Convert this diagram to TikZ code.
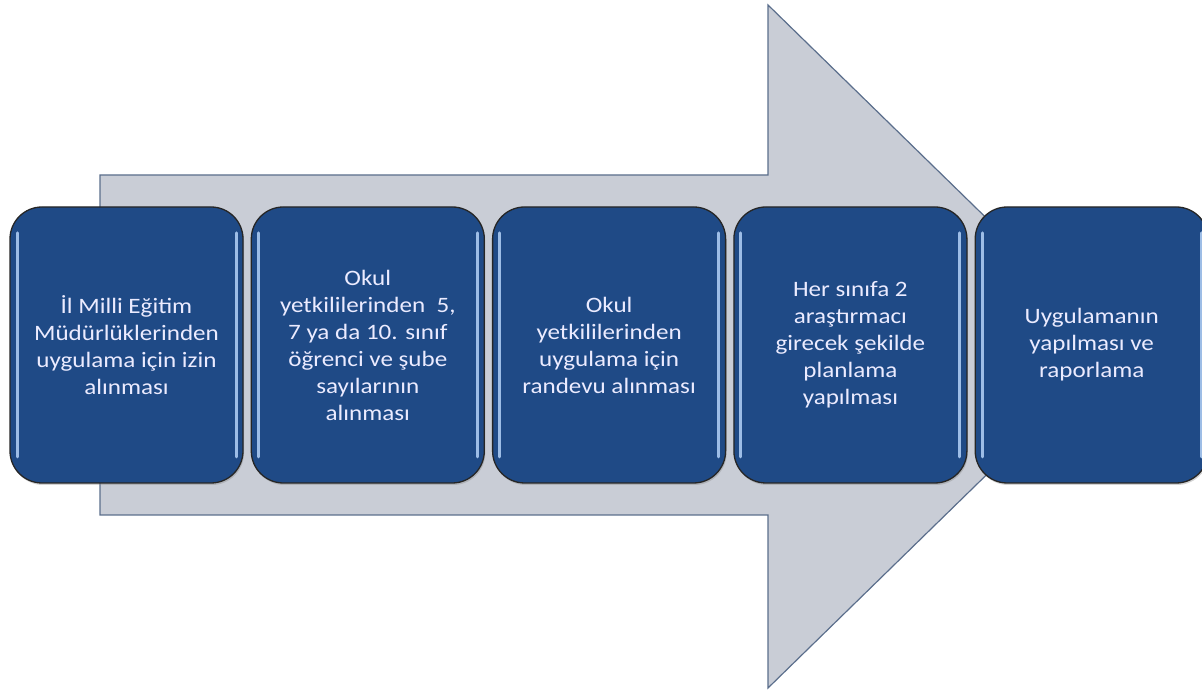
\documentclass[tikz,border=0pt]{standalone}
\usepackage{fontspec}
\setmainfont{Carlito}[FakeStretch=1.14]
\usetikzlibrary{shadows}
\definecolor{arrowgrey}{HTML}{C9CDD6}
\definecolor{arrowline}{HTML}{5B6E8C}
\definecolor{boxblue}{HTML}{1F4A86}
\definecolor{glintblue}{HTML}{9DBDE6}
\begin{document}
\begin{tikzpicture}[x=1pt, y=1pt,
  pointer/.style={fill=arrowgrey, draw=arrowline, line width=1.2pt},
  glint/.style={glintblue, line width=3pt, line cap=round},
  stepbox/.style={rectangle, rounded corners=32pt, draw=black!85, line width=1.3pt,
    fill=boxblue, minimum width=233pt, minimum height=276pt, inner sep=0pt,
    text=white!92!blue, align=center, font=\fontsize{22}{27}\selectfont,
    drop shadow={opacity=0.35, shadow xshift=1pt, shadow yshift=-2pt},
    path picture={
      \draw[glint] ([xshift=7pt,yshift=-26pt]path picture bounding box.north west)
        -- ([xshift=7pt,yshift=26pt]path picture bounding box.south west);
      \draw[glint] ([xshift=-7pt,yshift=-26pt]path picture bounding box.north east)
        -- ([xshift=-7pt,yshift=26pt]path picture bounding box.south east);}}]
  \useasboundingbox (0,0) rectangle (1202,692);
  % big arrow behind the steps
  \draw[pointer] (100,177) -- (768,177) -- (768,4) -- (1118,345.5) -- (768,687)
    -- (768,517) -- (100,517) -- cycle;
  % steps
  \node[stepbox] (1) at (126.5,347) {İl Milli Eğitim\\Müdürlüklerinden\\uygulama için izin\\alınması};
  \node[stepbox] (2) at (367.8,347) {Okul\\yetkililerinden~ 5,\\7 ya da 10. sınıf\\öğrenci ve şube\\sayılarının\\alınması};
  \node[stepbox] (3) at (609.1,347) {Okul\\yetkililerinden\\uygulama için\\randevu alınması};
  \node[stepbox] (4) at (850.4,347) {Her sınıfa 2\\araştırmacı\\girecek şekilde\\planlama\\yapılması};
  \node[stepbox] (5) at (1091.7,347) {Uygulamanın\\yapılması ve\\raporlama};
\end{tikzpicture}
\end{document}
